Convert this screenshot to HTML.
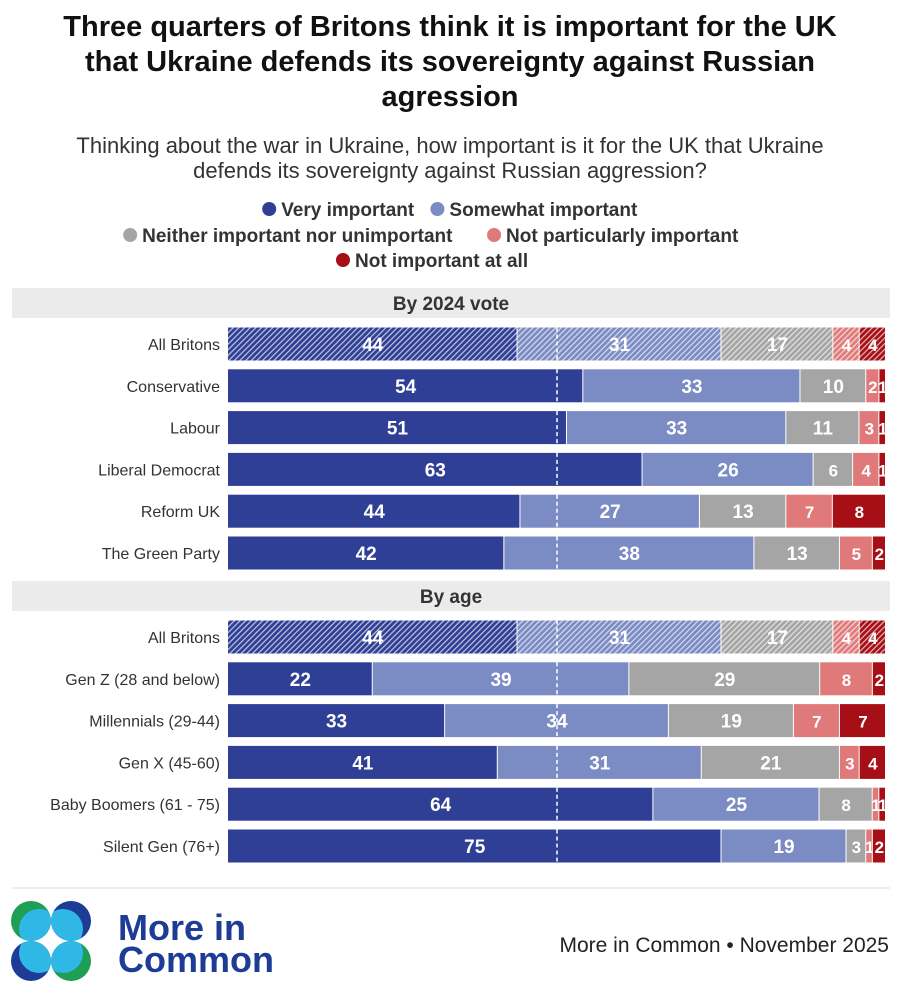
<!DOCTYPE html>
<html><head><meta charset="utf-8"><style>
body{margin:0;background:#fff;font-family:"Liberation Sans",sans-serif;}
#wrap{position:relative;width:900px;height:1000px;overflow:hidden;}
.t{position:absolute;left:0;width:900px;text-align:center;}
</style></head><body>
<div id="wrap">
<div class="t" style="top:10px;font-size:29px;font-weight:bold;line-height:35px;color:#111;">Three quarters of Britons think it is important for the UK<br>that Ukraine defends its sovereignty against Russian<br>agression</div>
<div class="t" style="top:133px;font-size:22px;line-height:25px;color:#333;">Thinking about the war in Ukraine, how important is it for the UK that Ukraine<br>defends its sovereignty against Russian aggression?</div>
<svg id="svg" width="900" height="1000" style="position:absolute;left:0;top:0"></svg>
</div>
<script>
const groups=["By 2024 vote","By age"];
const rowsVote=["All Britons","Conservative","Labour","Liberal Democrat","Reform UK","The Green Party"];
const rowsAge=["All Britons","Gen Z (28 and below)","Millennials (29-44)","Gen X (45-60)","Baby Boomers (61 - 75)","Silent Gen (76+)"];
const seriesNames=["Very important","Somewhat important","Neither important nor unimportant","Not particularly important","Not important at all"];
const valsVote=[[44,31,17,4,4],[54,33,10,2,1],[51,33,11,3,1],[63,26,6,4,1],[44,27,13,7,8],[42,38,13,5,2]];
const valsAge=[[44,31,17,4,4],[22,39,29,8,2],[33,34,19,7,7],[41,31,21,3,4],[64,25,8,1,1],[75,19,3,1,2]];
const colors=["#2e3f95","#7b8bc3","#a5a5a5","#e07a7a","#a50f15"];
const NS="http://www.w3.org/2000/svg";
const svg=document.getElementById('svg');
function mk(t,a,p){const e=document.createElementNS(NS,t);for(const k in a)e.setAttribute(k,a[k]);(p||svg).appendChild(e);return e;}
const defs=mk('defs',{});
colors.forEach((c,i)=>{const p=mk('pattern',{id:'h'+i,width:4,height:4,patternUnits:'userSpaceOnUse',patternTransform:'rotate(45)'},defs);mk('rect',{width:4,height:4,fill:c},p);mk('rect',{width:1.2,height:4,fill:'rgba(255,255,255,0.7)'},p);});
const leg=[[[0,"Very important"],[1,"Somewhat important"]],[[2,"Neither important nor unimportant"],[3,"Not particularly important"]],[[4,"Not important at all"]]];
const ly=[209,235,260];
leg.forEach((line,li)=>{
 const widths=line.map(x=>x[1].length*10.3+24);const w=widths.reduce((a,b)=>a+b,0);
 let x=450-w/2;
 line.forEach((it,k)=>{
  const c=mk('circle',{cx:x+8,cy:ly[li],r:7,fill:colors[it[0]]});
  
  const t=mk('text',{x:x+20,y:ly[li]+7,'font-size':19,'font-weight':'bold',fill:'#333'});t.textContent=it[1];
  
  x+=widths[k];
 });
});
const x0=228,x1=886,bh=33;
function xs(v){return v/100*(x1-x0);}
function drawGroup(title,rows,vals,hy,ry0){
 const b=mk('rect',{x:12,y:hy-15,width:878,height:30,fill:'#ebebeb'});
 
 const ht=mk('text',{x:451,y:hy+7,'font-size':19,'font-weight':'bold','text-anchor':'middle',fill:'#333'});ht.textContent=title;
 
 rows.forEach((r,i)=>{
  const cy=ry0+i*41.8;const y=cy-bh/2;
  const lt=mk('text',{x:220,y:cy+6,'font-size':16,'text-anchor':'end',fill:'#333'});lt.textContent=r;
  
  const tot=vals[i].reduce((a,b)=>a+b,0);let x=x0;
  const hatch=(i===0);
  vals[i].forEach((v,k)=>{
   const w=xs(v*100/tot);
   const rc=mk('rect',{x:x,y:y,width:Math.max(w-1,0.5),height:bh,fill:hatch?'url(#h'+k+')':colors[k]});
   
   const fs=v<10?17:19;
   const t=mk('text',{x:x+w/2,y:cy+7,'font-size':fs,'font-weight':'bold','text-anchor':'middle',fill:'#fff'});t.textContent=v;
   
   x+=w;
  });
  const dl=mk('line',{x1:x0+xs(50),x2:x0+xs(50),y1:y,y2:y+bh,stroke:'#fff','stroke-width':1.5,'stroke-dasharray':'4,3'});
  
 });
}
drawGroup(groups[0],rowsVote,valsVote,303,344);
drawGroup(groups[1],rowsAge,valsAge,596,637);
const fl=mk('line',{x1:12,x2:890,y1:888,y2:888,stroke:'#ddd','stroke-width':1});

const g=mk('g',{});
[[31,921,'#1f9e55',1,1],[71,921,'#1d3c95',-1,1],[31,961,'#1d3c95',1,-1],[71,961,'#1f9e55',-1,-1]].forEach((c,i)=>{
 const cp=mk('clipPath',{id:'lc'+i},defs);mk('circle',{cx:c[0],cy:c[1],r:20},cp);
 mk('circle',{cx:c[0],cy:c[1],r:20,fill:c[2]},g);
 mk('circle',{cx:c[0]+c[3]*8,cy:c[1]+c[4]*8,r:20,fill:'#2fb8e6','clip-path':'url(#lc'+i+')'},g);
});
const lt1=mk('text',{x:118,y:940,'font-size':36,'font-weight':'bold',fill:'#1d3c95'});lt1.textContent='More in';

const lt2=mk('text',{x:118,y:972,'font-size':36,'font-weight':'bold',fill:'#1d3c95'});lt2.textContent='Common';

const src=mk('text',{x:889,y:952,'font-size':21,'text-anchor':'end',fill:'#222'});src.textContent='More in Common • November 2025';

</script>
</body></html>
